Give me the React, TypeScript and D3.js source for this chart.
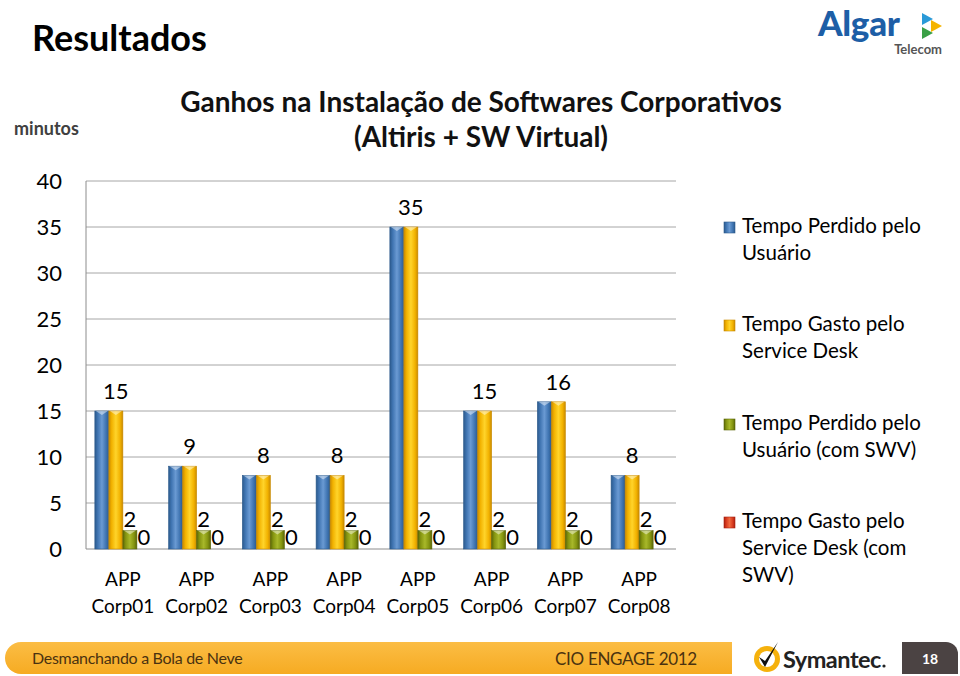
import React from "react";
import * as d3 from "d3";

const categories = ["Corp01", "Corp02", "Corp03", "Corp04", "Corp05", "Corp06", "Corp07", "Corp08"];
const seriesNames = [
  "Tempo Perdido pelo Usuário",
  "Tempo Gasto pelo Service Desk",
  "Tempo Perdido pelo Usuário (com SWV)",
  "Tempo Gasto pelo Service Desk (com SWV)",
];
const legendLines = [
  ["Tempo Perdido pelo", "Usuário"],
  ["Tempo Gasto pelo", "Service Desk"],
  ["Tempo Perdido pelo", "Usuário (com SWV)"],
  ["Tempo Gasto pelo", "Service Desk (com", "SWV)"],
];
const perdidoUsuario = [15, 9, 8, 8, 35, 15, 16, 8];
const gastoServiceDesk = [15, 9, 8, 8, 35, 15, 16, 8];
const perdidoUsuarioSWV = [2, 2, 2, 2, 2, 2, 2, 2];
const gastoServiceDeskSWV = [0, 0, 0, 0, 0, 0, 0, 0];
const yTicks = [0, 5, 10, 15, 20, 25, 30, 35, 40];

const seriesValues = [perdidoUsuario, gastoServiceDesk, perdidoUsuarioSWV, gastoServiceDeskSWV];
const seriesColors = [
  { dark: "#2c5a8c", mid: "#3f74b1", light: "#6a9ad3" },
  { dark: "#c98a00", mid: "#f2b200", light: "#ffd42a" },
  { dark: "#5a6608", mid: "#849410", light: "#a8b82a" },
  { dark: "#a82010", mid: "#d83a1e", light: "#f06a40" },
];
const labelSeries = [1, 2, 3];
const labelGap = [12, 12, 4, 4];

const FONT = "Lato, 'Open Sans', sans-serif";

export default function App() {
  const W = 960;
  const H = 676;
  const left = 86;
  const right = 676;
  const top = 181;
  const bottom = 549;

  const x = d3.scaleBand<string>().domain(categories).range([left, right]).paddingInner(0.24).paddingOuter(0.12);
  const xs = d3.scaleBand<number>().domain(d3.range(seriesValues.length)).range([0, x.bandwidth()]).padding(0);
  const y = d3.scaleLinear().domain([0, 40]).range([bottom, top]);

  return (
    <svg width={W} height={H} style={{ position: "absolute", left: 0, top: 0, background: "#fff" }} fontFamily={FONT}>
      <defs>
        {seriesColors.map((c, i) => (
          <linearGradient key={i} id={`g${i}`} x1="0" x2="1" y1="0" y2="0">
            <stop offset="0" stopColor={c.dark} />
            <stop offset="0.2" stopColor={c.mid} />
            <stop offset="0.5" stopColor={c.light} />
            <stop offset="0.8" stopColor={c.mid} />
            <stop offset="1" stopColor={c.dark} />
          </linearGradient>
        ))}
        <linearGradient id="orange" x1="0" x2="0" y1="0" y2="1">
          <stop offset="0" stopColor="#fbbd45" />
          <stop offset="1" stopColor="#f6ab22" />
        </linearGradient>
      </defs>

      {/* Header */}
      <text x={32} y={51} fontSize={36} fontWeight={700} fill="#000">Resultados</text>
      <text x={14} y={135} fontSize={18} fontWeight={700} fill="#404040">minutos</text>

      {/* Algar logo */}
      <text x={818} y={36} fontSize={35} fontWeight={900} fill="#1d5ea6" letterSpacing={-0.3}>Algar</text>
      <polygon points="922,13 933,19 922,25" fill="#2a9ad8" />
      <polygon points="931,20 942,26 931,32" fill="#f5b400" />
      <polygon points="922,27 933,33 922,39" fill="#3aa046" />
      <text x={942} y={54} fontSize={13} fontWeight={700} fill="#555" textAnchor="end">Telecom</text>

      {/* Chart title */}
      <text x={481} y={112} fontSize={28} fontWeight={700} textAnchor="middle" fill="#111">
        Ganhos na Instalação de Softwares Corporativos
      </text>
      <text x={481} y={147} fontSize={28} fontWeight={700} textAnchor="middle" fill="#111">
        (Altiris + SW Virtual)
      </text>

      {/* Gridlines */}
      {yTicks.filter((t) => t > 0).map((t) => (
        <line key={t} x1={left} x2={right} y1={y(t)} y2={y(t)} stroke="#a6a6a6" strokeWidth={1} />
      ))}
      <line x1={left} x2={left} y1={top} y2={bottom} stroke="#8c8c8c" />
      <line x1={left} x2={right} y1={bottom} y2={bottom} stroke="#8c8c8c" />

      {/* Y tick labels */}
      {yTicks.map((t) => (
        <text key={t} x={62} y={y(t) + 8} fontSize={22} textAnchor="end" fill="#000">{t}</text>
      ))}

      {/* Bars */}
      {categories.map((cat, ci) => (
        <g key={cat} transform={`translate(${x(cat)},0)`}>
          {seriesValues.map((vals, si) => {
            const v = vals[ci];
            if (v <= 0) return null;
            const bx = xs(si)!;
            const bw = xs.bandwidth();
            const yt = y(v);
            return (
              <g key={si}>
                <rect x={bx} y={yt} width={bw} height={bottom - yt} fill={`url(#g${si})`} stroke={seriesColors[si].dark} strokeWidth={0.6} />
                <polygon
                  points={`${bx + 1},${yt} ${bx + bw - 1},${yt} ${bx + bw / 2},${yt + 4}`}
                  fill="#ffffff"
                  opacity={0.45}
                />
              </g>
            );
          })}
          {labelSeries.map((si) => {
            const v = seriesValues[si][ci];
            return (
              <text
                key={si}
                x={xs(si)! + xs.bandwidth() / 2}
                y={y(v) - labelGap[si]}
                fontSize={22}
                textAnchor="middle"
                fill="#000"
              >
                {v}
              </text>
            );
          })}
          <text x={x.bandwidth() / 2} y={586} fontSize={19} textAnchor="middle" fill="#000">APP</text>
          <text x={x.bandwidth() / 2} y={613} fontSize={19} textAnchor="middle" fill="#000">{cat}</text>
        </g>
      ))}

      {/* Legend */}
      {legendLines.map((lines, i) => {
        const baseY = [233, 331, 430, 528][i];
        return (
          <g key={i}>
            <rect x={724} y={baseY - 11} width={11} height={11} fill={`url(#g${i})`} stroke={seriesColors[i].dark} strokeWidth={0.6} />
            {lines.map((ln, li) => (
              <text key={li} x={742} y={baseY + li * 27} fontSize={20.5} fill="#000">{ln}</text>
            ))}
          </g>
        );
      })}

      {/* Footer */}
      <path d="M21,642 H732 V674 H21 A16,16 0 0 1 21,642 Z" fill="url(#orange)" />
      <text x={32} y={664} fontSize={16} fill="#4a3210" letterSpacing={-0.3}>Desmanchando a Bola de Neve</text>
      <text x={555} y={665} fontSize={17} fill="#4a3210" letterSpacing={-0.3}>CIO ENGAGE 2012</text>

      <circle cx={767} cy={659} r={13} fill="#f5b10c" />
      <circle cx={767} cy={659} r={8} fill="#fff" />
      <path d="M759,657 L765,667 L778,642 L765,661 Z" fill="#111" />
      <text x={783} y={668} fontSize={23.5} fontWeight={700} fill="#222" letterSpacing={-0.5}>Symantec</text>
      <circle cx={884} cy={666} r={1.6} fill="#222" />

      <path d="M902,642 H946 A12,12 0 0 1 958,654 V674 H902 Z" fill="#4b4343" />
      <text x={930} y={664} fontSize={14} fontWeight={700} textAnchor="middle" fill="#fff">18</text>
    </svg>
  );
}
